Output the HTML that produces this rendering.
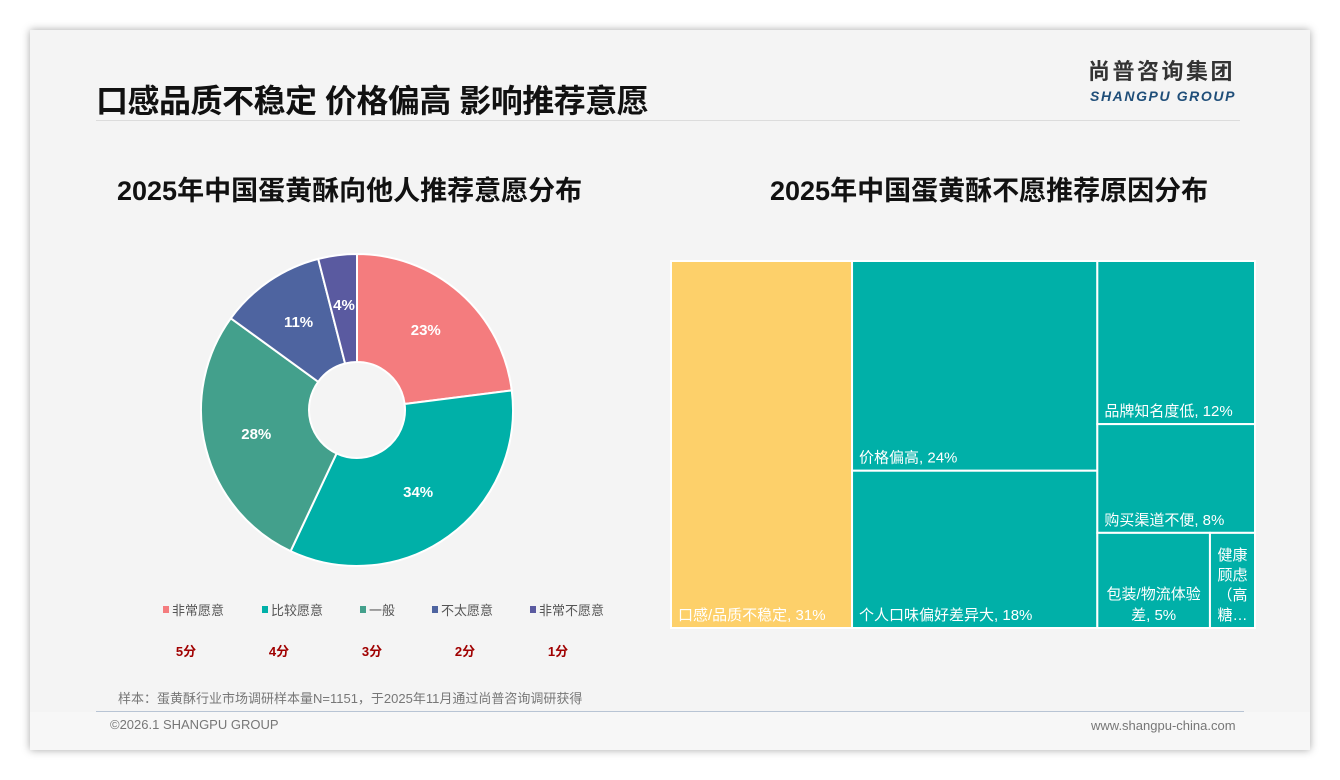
<!DOCTYPE html>
<html><head><meta charset="utf-8">
<style>
body{margin:0;width:1340px;height:780px;background:#fff;position:relative;overflow:hidden;font-family:"Liberation Sans","Noto Sans CJK SC",sans-serif;}
#card{position:absolute;left:30px;top:30px;width:1280px;height:720px;background:#f4f4f4;box-shadow:0 0 8px rgba(0,0,0,0.35);}
.abs{position:absolute;}
</style></head><body>
<div id="card"></div>
<div class="abs" style="left:30px;top:712px;width:1280px;height:38px;background:#f7f7f7"></div>
<div class="abs" style="left:96px;top:76px;font-size:32px;font-weight:bold;color:#111;letter-spacing:-0.5px">口感品质不稳定 价格偏高 影响推荐意愿</div>
<div class="abs" style="left:96px;top:120px;width:1144px;height:1px;background:#dcdcdc"></div>
<div class="abs" style="left:1088px;top:58px;font-size:22px;line-height:28px;font-weight:bold;color:#333;letter-spacing:2.5px">尚普咨询集团</div>
<div class="abs" style="left:1090px;top:88px;font-size:14px;font-weight:bold;font-style:italic;color:#1f4e79;letter-spacing:1.6px">SHANGPU GROUP</div>
<div class="abs" style="left:117px;top:169px;font-size:27px;font-weight:bold;color:#111">2025年中国蛋黄酥向他人推荐意愿分布</div>
<div class="abs" style="left:770px;top:169px;font-size:27px;font-weight:bold;color:#111">2025年中国蛋黄酥不愿推荐原因分布</div>
<svg class="abs" style="left:0;top:0" width="1340" height="780" id="chart"></svg>
<div class="abs" style="left:118px;top:688px;font-size:13px;color:#777">样本：蛋黄酥行业市场调研样本量N=1151，于2025年11月通过尚普咨询调研获得</div>
<div class="abs" style="left:96px;top:711px;width:1148px;height:1px;background:#b8c4d4"></div>
<div class="abs" style="left:110px;top:717px;font-size:13px;color:#777">©2026.1 SHANGPU GROUP</div>
<div class="abs" style="left:1091px;top:718px;font-size:13px;color:#777">www.shangpu-china.com</div>
<script>
const pieCats=["非常愿意","比较愿意","一般","不太愿意","非常不愿意"];
const pieVals=[23,34,28,11,4];
const pieScores=["5分","4分","3分","2分","1分"];
const pieColors=["#f47c7e","#00b0a8","#43a08c","#4e64a0","#5a5aa0"];
const tmCats=["口感/品质不稳定","价格偏高","个人口味偏好差异大","品牌知名度低","购买渠道不便","包装/物流体验差","健康顾虑（高糖…"];
const tmVals=[31,24,18,12,8,5,2];
const NS="http://www.w3.org/2000/svg";
const svg=document.getElementById('chart');
function mk(t,a){const e=document.createElementNS(NS,t);for(const k in a)e.setAttribute(k,a[k]);svg.appendChild(e);return e;}
const legendX=[166,265,363,435,533];
const cx=357,cy=410,R=156,r0=48;
const tot=pieVals.reduce((a,b)=>a+b,0);
let ang=0;
function pt(a,rr){return [cx+rr*Math.sin(a),cy-rr*Math.cos(a)];}
pieVals.forEach((v,i)=>{
  const a0=ang,a1=ang+v/tot*2*Math.PI;ang=a1;
  const big=(a1-a0)>Math.PI?1:0;
  const p0=pt(a0,R),p1=pt(a1,R),q1=pt(a1,r0),q0=pt(a0,r0);
  const p=mk('path',{d:`M${p0[0]},${p0[1]}A${R},${R} 0 ${big} 1 ${p1[0]},${p1[1]}L${q1[0]},${q1[1]}A${r0},${r0} 0 ${big} 0 ${q0[0]},${q0[1]}Z`,fill:pieColors[i],stroke:'#fff','stroke-width':2});
  
  
  const m=(a0+a1)/2,lp=pt(m,104);
  const t=mk('text',{x:lp[0],y:lp[1]+3,'text-anchor':'middle','font-size':15,'font-weight':'bold',fill:'#fff'});
  t.textContent=v+'%';
  
  
  const lx=legendX[i];
  const s=mk('rect',{x:lx-3,y:606,width:6,height:7,fill:pieColors[i]});
  
  
  const lt=mk('text',{x:lx+6,y:615,'font-size':13,fill:'#555'});
  lt.textContent=pieCats[i];
  
  
  const st=mk('text',{x:186+i*93,y:656,'font-size':13,'font-weight':'bold',fill:'#a00000','text-anchor':'middle'});
  st.textContent=pieScores[i];
  
  
});
const X0=671,Y0=261,W=584,H=367;
const T=tmVals.reduce((a,b)=>a+b,0);
const rects=[];
let x=X0;
const c1=tmVals[0]/T*W; rects.push([x,Y0,c1,H]); x+=c1;
const g2=tmVals[1]+tmVals[2], c2=g2/T*W;
const h1=tmVals[1]/g2*H; rects.push([x,Y0,c2,h1]); rects.push([x,Y0+h1,c2,H-h1]); x+=c2;
const g3=tmVals[3]+tmVals[4]+tmVals[5]+tmVals[6], c3=g3/T*W;
let y=Y0;
const hA=tmVals[3]/g3*H; rects.push([x,y,c3,hA]); y+=hA;
const hB=tmVals[4]/g3*H; rects.push([x,y,c3,hB]); y+=hB;
const hC=H-hA-hB, g4=tmVals[5]+tmVals[6], wA=tmVals[5]/g4*c3;
rects.push([x,y,wA,hC]); rects.push([x+wA,y,c3-wA,hC]);
rects.forEach((rc,i)=>{
  const e=mk('rect',{x:rc[0],y:rc[1],width:rc[2],height:rc[3],fill:i==0?'#fdd06a':'#00b0a8',stroke:'#fff','stroke-width':2});
  
  
  const lbl=tmCats[i]+', '+tmVals[i]+'%';
  const lines = i==5 ? ['包装/物流体验','差, '+tmVals[i]+'%'] : i==6 ? ['健康','顾虑','（高','糖…'] : [lbl];
  const small=i>=5;
  lines.forEach((ln,j)=>{
    const ty=rc[1]+rc[3]-8-(lines.length-1-j)*(i==6?20:21);
    const t=mk('text',{x:small?rc[0]+rc[2]/2:rc[0]+7,y:ty,'font-size':15,fill:'#fff','text-anchor':small?'middle':'start'});
    t.textContent=ln;
    
    
  });
});
</script>
</body></html>
